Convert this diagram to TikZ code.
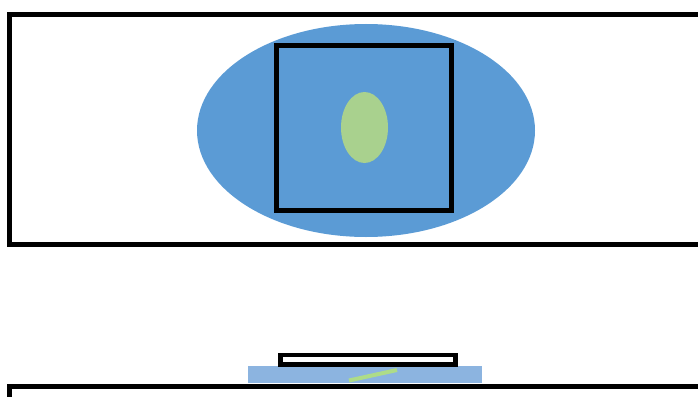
\documentclass[tikz,border=0pt]{standalone}
\begin{document}
\begin{tikzpicture}[x=1pt,y=-1pt,
  frame/.style={draw=black,line width=5.5pt},
  blob/.style={draw=none},
]
\definecolor{officeblue}{HTML}{5B9BD5}
\definecolor{officegreen}{HTML}{A9D18E}
\definecolor{lightblue}{HTML}{8CB4E0}
\definecolor{linegreen}{HTML}{AEDC88}
\useasboundingbox (0,0) rectangle (698,396);
\clip (0,0) rectangle (698,396);
% top frame
\draw[frame] (9.5,14.5) rectangle (710,244.5);
% big ellipse
\fill[officeblue] (366,130.5) ellipse [x radius=169, y radius=106.5];
% square
\draw[frame] (276.5,45.5) rectangle (451.5,210.5);
% green ellipse
\fill[officegreen] (364.5,127.5) ellipse [x radius=23.5, y radius=35.5];
% bottom assembly
\fill[lightblue] (248,366) rectangle (482,383);
\draw[black,line width=4.5pt] (280.5,355.2) rectangle (455.5,364.5);
\coordinate (ga) at (349,380.5);
\coordinate (gb) at (397,370);
\draw[linegreen,line width=4pt] (ga) -- (gb);
% bottom frame
\draw[frame] (9.5,386.5) rectangle (710,420);
\end{tikzpicture}
\end{document}
